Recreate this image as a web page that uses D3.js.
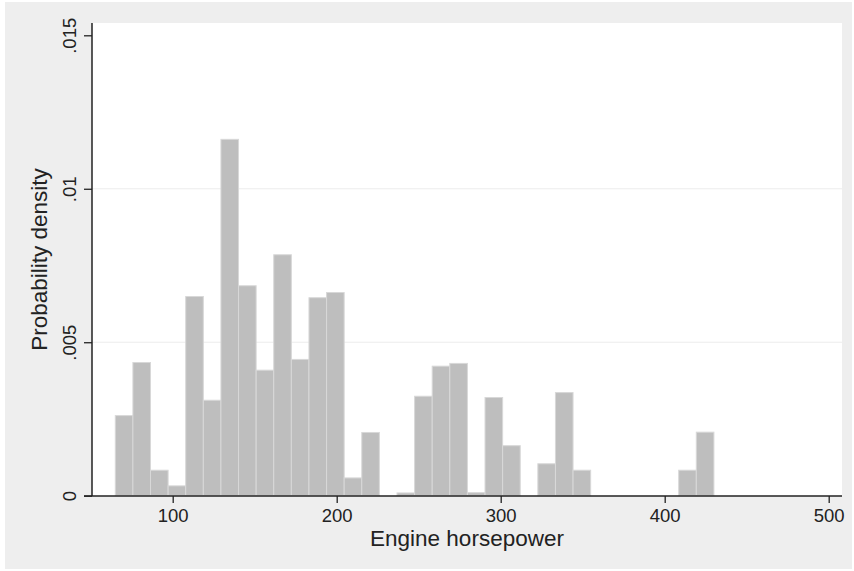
<!DOCTYPE html>
<html>
<head>
<meta charset="utf-8">
<script src="https://cdn.jsdelivr.net/npm/d3@7"></script>
<style>
  body { margin: 0; background: #fff; }
  svg text { font-family: "Liberation Sans", Arial, sans-serif; fill: #222; }
</style>
</head>
<body>
<div class="chart"></div>
<script>
// Data: histogram bins (start 65, width ~10.735, 34 bins)
const binStart = 65;
const binWidth = 365 / 34;
const densities = [
  0.00261, 0.00434, 0.00083, 0.00032, 0.00649, 0.00311, 0.01161, 0.00684,
  0.00409, 0.00785, 0.00444, 0.00645, 0.00662, 0.00058, 0.00206, 0,
  0.00009, 0.00324, 0.00422, 0.00431, 0.0001, 0.0032, 0.00163, 0,
  0.00104, 0.00336, 0.00083, 0, 0, 0, 0, 0,
  0.00083, 0.00207
];
const xTicks = [100, 200, 300, 400, 500];
const yTicks = [0, 0.005, 0.01, 0.015];
const yTickLabels = ["0", ".005", ".01", ".015"];
const gridTicks = [0.005, 0.01];

const W = 854, H = 571;
const plot = { left: 92, right: 842, top: 23, bottom: 496 };

const x = d3.scaleLinear().domain([0, 500]).range([8.7, 828.7]);
const y = d3.scaleLinear().domain([0, 0.015]).range([495.7, 35.3]);

const svg = d3.select(".chart").append("svg")
    .attr("width", W)
    .attr("height", H);

// outer background
svg.append("rect")
    .attr("x", 5).attr("y", 2)
    .attr("width", W - 7).attr("height", H - 4)
    .attr("fill", "#eeeeee");

// plot region
svg.append("rect")
    .attr("x", plot.left).attr("y", plot.top)
    .attr("width", plot.right - plot.left)
    .attr("height", plot.bottom - plot.top)
    .attr("fill", "#ffffff");

// gridlines
svg.selectAll(".grid")
    .data(gridTicks)
    .enter().append("line")
    .attr("class", "grid")
    .attr("x1", plot.left).attr("x2", plot.right)
    .attr("y1", d => y(d)).attr("y2", d => y(d))
    .attr("stroke", "#ececec")
    .attr("stroke-width", 1);

// bars
const bins = densities.map((d, i) => ({
    x0: binStart + i * binWidth,
    x1: binStart + (i + 1) * binWidth,
    v: d
})).filter(b => b.v > 0);

svg.selectAll(".bar")
    .data(bins)
    .enter().append("rect")
    .attr("class", "bar")
    .attr("x", d => x(d.x0))
    .attr("width", d => x(d.x1) - x(d.x0))
    .attr("y", d => y(d.v))
    .attr("height", d => y(0) - y(d.v))
    .attr("fill", "#bebebe")
    .attr("stroke", "#d8d8d8")
    .attr("stroke-width", 1);

// x axis
const xAxis = d3.axisBottom(x).tickValues(xTicks).tickSize(7).tickPadding(6).tickFormat(d3.format("d"));
const gx = svg.append("g")
    .attr("transform", "translate(0," + plot.bottom + ")")
    .call(xAxis);
gx.select(".domain").remove();
gx.append("line")
    .attr("x1", 84).attr("x2", plot.right)
    .attr("stroke", "#222").attr("stroke-width", 1.5);
gx.selectAll(".tick line").attr("stroke", "#222").attr("stroke-width", 1.3);
gx.selectAll(".tick text")
    .style("font-size", "18.5px")
    .style("font-family", "Liberation Sans, Arial, sans-serif")
    .attr("fill", "#222");

// y axis
const yAxis = d3.axisLeft(y).tickValues(yTicks).tickSize(8).tickPadding(4)
    .tickFormat((d, i) => yTickLabels[i]);
const gy = svg.append("g")
    .attr("transform", "translate(" + plot.left + ",0)")
    .call(yAxis);
gy.select(".domain").remove();
gy.append("line")
    .attr("y1", plot.top).attr("y2", plot.bottom)
    .attr("stroke", "#222").attr("stroke-width", 1.5);
gy.selectAll(".tick line").attr("stroke", "#222").attr("stroke-width", 1.3);
gy.selectAll(".tick text")
    .attr("x", null).attr("dy", null)
    .attr("transform", "translate(-16,0) rotate(-90)")
    .style("text-anchor", "middle")
    .style("font-size", "18.5px")
    .style("font-family", "Liberation Sans, Arial, sans-serif")
    .attr("fill", "#222");

// axis titles
svg.append("text")
    .attr("x", (plot.left + plot.right) / 2)
    .attr("y", 546)
    .attr("text-anchor", "middle")
    .style("font-size", "22.5px")
    .text("Engine horsepower");

svg.append("text")
    .attr("transform", "translate(47," + ((plot.top + plot.bottom) / 2) + ") rotate(-90)")
    .attr("text-anchor", "middle")
    .style("font-size", "22.5px")
    .text("Probability density");
</script>
</body>
</html>
